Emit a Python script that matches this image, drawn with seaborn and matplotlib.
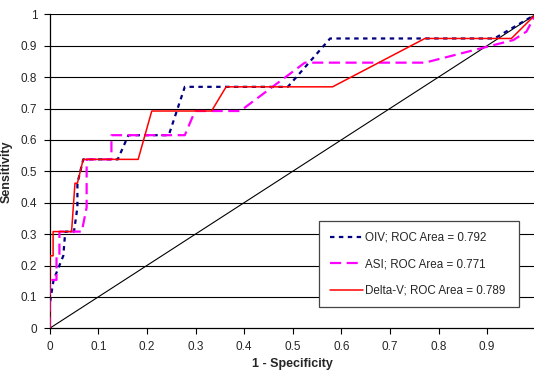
import matplotlib
matplotlib.use("Agg")
import matplotlib.pyplot as plt
import seaborn as sns
import pandas as pd

# ---- data ----
oiv_x = [0, 0, 0.008, 0.028, 0.032, 0.05, 0.057, 0.057, 0.069, 0.14, 0.162, 0.245, 0.278, 0.49, 0.577, 0.915, 1.0]
oiv_y = [0, 0.077, 0.154, 0.231, 0.308, 0.308, 0.385, 0.462, 0.538, 0.538, 0.615, 0.615, 0.769, 0.769, 0.923, 0.923, 1.0]

asi_x = [0, 0, 0.014, 0.014, 0.02, 0.02, 0.066, 0.076, 0.076, 0.127, 0.127, 0.278, 0.299, 0.392, 0.525, 0.772, 0.954, 0.981, 1.0]
asi_y = [0, 0.154, 0.154, 0.231, 0.231, 0.308, 0.308, 0.385, 0.538, 0.538, 0.615, 0.615, 0.692, 0.692, 0.846, 0.846, 0.918, 0.945, 1.0]

dv_x = [0, 0, 0.007, 0.007, 0.045, 0.052, 0.057, 0.069, 0.182, 0.21, 0.333, 0.363, 0.582, 0.772, 0.95, 1.0]
dv_y = [0, 0.231, 0.231, 0.308, 0.308, 0.462, 0.462, 0.538, 0.538, 0.692, 0.692, 0.769, 0.769, 0.923, 0.923, 1.0]

ref_x = [0, 1]
ref_y = [0, 1]

labels = ["OIV; ROC Area = 0.792", "ASI; ROC Area = 0.771", "Delta-V; ROC Area = 0.789"]
xticks = [0, 0.1, 0.2, 0.3, 0.4, 0.5, 0.6, 0.7, 0.8, 0.9, 1]
yticks = [0, 0.1, 0.2, 0.3, 0.4, 0.5, 0.6, 0.7, 0.8, 0.9, 1]

sns.set_style("white")
plt.rcParams["font.family"] = ["Liberation Sans", "DejaVu Sans"]

fig = plt.figure(figsize=(5.34, 3.72), dpi=100)
ax = fig.add_axes([49.7 / 534, 43.7 / 372, 486 / 534, 314 / 372])

for yv in yticks[1:]:
    ax.axhline(yv, color="#000000", lw=0.8, zorder=0)

sns.lineplot(x=ref_x, y=ref_y, sort=False, estimator=None, ax=ax, color="black", lw=0.8, zorder=1)
sns.lineplot(x=oiv_x, y=oiv_y, sort=False, estimator=None, ax=ax, color="#000080", lw=1.6,
             linestyle=(0, (2, 2)), label=labels[0], zorder=3)
sns.lineplot(x=asi_x, y=asi_y, sort=False, estimator=None, ax=ax, color="#FF00FF", lw=1.6,
             linestyle=(0, (5, 2.5)), label=labels[1], zorder=3)
sns.lineplot(x=dv_x, y=dv_y, sort=False, estimator=None, ax=ax, color="#FF0000", lw=1.1,
             label=labels[2], zorder=4)

ax.set_xlim(0, 1)
ax.set_ylim(0, 1)
ax.set_xticks(xticks)
ax.set_yticks(yticks)
ax.set_xticklabels([f"{t:g}" for t in xticks], fontsize=8.5)
ax.set_yticklabels([f"{t:g}" for t in yticks], fontsize=8.5)
ax.tick_params(axis="both", direction="out", length=4, width=0.8, color="black", pad=5,
               bottom=True, left=True)
for s in ["top", "right"]:
    ax.spines[s].set_visible(False)
for s in ["left", "bottom"]:
    ax.spines[s].set_color("black")
    ax.spines[s].set_linewidth(0.9)

ax.set_xlabel("1 - Specificity", fontsize=9, fontweight="bold", labelpad=4)
ax.set_ylabel("Sensitivity", fontsize=9, fontweight="bold", labelpad=6)

leg = ax.legend(loc="lower left", bbox_to_anchor=(0.555, 0.067, 0.411, 0.262), mode="expand",
                fontsize=8.4, frameon=True, fancybox=False, framealpha=1, edgecolor="#444444",
                labelspacing=1.25, handlelength=2.8, handletextpad=0.2, borderpad=0.9,
                borderaxespad=0)
leg.get_frame().set_linewidth(0.9)
leg.set_zorder(5)

fig.savefig("out.png", dpi=100)
